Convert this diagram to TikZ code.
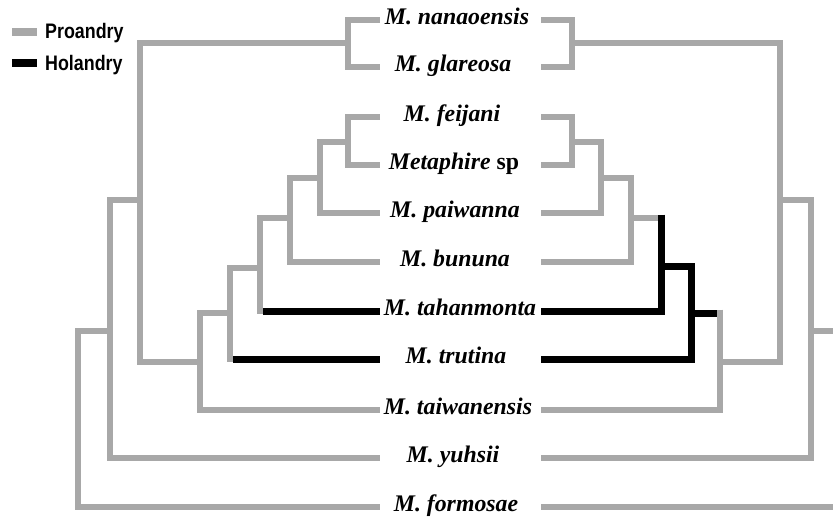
\documentclass[tikz,border=0pt]{standalone}
\usepackage{fontspec}
\setmainfont{Liberation Serif}
\newfontfamily\legendfont[FakeStretch=0.85]{Liberation Sans}
\definecolor{treegray}{RGB}{168,168,168}
\begin{document}
\begin{tikzpicture}[x=1pt,y=-1pt,
  gbr/.style={draw=treegray,line width=6.8pt,line join=miter,line cap=butt},
  bbr/.style={draw=black,line width=7pt,line join=miter,line cap=butt},
  taxon/.style={anchor=base,inner sep=0pt,font=\fontsize{23.8}{26}\selectfont\bfseries\itshape},
  legtext/.style={anchor=base west,inner sep=0pt,font=\legendfont\fontsize{21}{23}\selectfont\bfseries}]
\useasboundingbox (0,0) rectangle (833,517);
% rows
\def\yA{20}\def\yB{67}\def\yC{117}\def\yD{165}\def\yE{213}\def\yF{262}
\def\yG{311}\def\yH{359}\def\yI{410}\def\yJ{458}\def\yK{507}
% labels
\node[taxon] (t1) at (457,\yA+4.5) {M. nanaoensis};
\node[taxon] (t2) at (453,\yB+4.5) {M. glareosa};
\node[taxon] (t3) at (452,\yC+4.5) {M. feijani};
\node[taxon] (t4) at (454,\yD+4.5) {Metaphire \upshape sp};
\node[taxon] (t5) at (455,\yE+4.5) {M. paiwanna};
\node[taxon] (t6) at (455,\yF+4.5) {M. bununa};
\node[taxon] (t7) at (460,\yG+4.5) {M. tahanmonta};
\node[taxon] (t8) at (456,\yH+4.5) {M. trutina};
\node[taxon] (t9) at (458,\yI+4.5) {M. taiwanensis};
\node[taxon] (t10) at (453,\yJ+4.5) {M. yuhsii};
\node[taxon] (t11) at (456,\yK+4.5) {M. formosae};
% legend
\fill[treegray] (12,28) rectangle (37,36);
\fill[black] (12,59) rectangle (37,67);
\node[legtext] (lp) at (45,38.5) {Proandry};
\node[legtext] (lh) at (45,70) {Holandry};
% leaf ends left
\coordinate (L1) at (380,\yA); \coordinate (L2) at (380,\yB);
\coordinate (L3) at (380,\yC); \coordinate (L4) at (380,\yD);
\coordinate (L5) at (380,\yE); \coordinate (L6) at (380,\yF);
\coordinate (L7) at (380,\yG); \coordinate (L8) at (380,\yH);
\coordinate (L9) at (380,\yI); \coordinate (L10) at (380,\yJ);
\coordinate (L11) at (380,\yK);
% leaf ends right
\coordinate (R1) at (541,\yA); \coordinate (R2) at (541,\yB);
\coordinate (R3) at (541,\yC); \coordinate (R4) at (541,\yD);
\coordinate (R5) at (541,\yE); \coordinate (R6) at (541,\yF);
\coordinate (R7) at (541,\yG); \coordinate (R8) at (541,\yH);
\coordinate (R9) at (541,\yI); \coordinate (R10) at (541,\yJ);
\coordinate (R11) at (541,\yK);
% left internal nodes
\coordinate (nA) at (348,43);
\coordinate (nC) at (348,142);
\coordinate (nD) at (320,178);
\coordinate (nE) at (290,218);
\coordinate (nF) at (260,268);
\coordinate (nF7) at (263.4,\yG);
\coordinate (nG) at (230,313);
\coordinate (nG8) at (233.4,\yH);
\coordinate (nH) at (200,362);
\coordinate (nB) at (140,200);
\coordinate (nI) at (110,331);
\coordinate (nJ) at (78,420);
% right internal nodes
\coordinate (mA) at (572,43);
\coordinate (mC) at (572,142);
\coordinate (mD) at (601,178);
\coordinate (mE) at (631,218);
\coordinate (mEr) at (661,218);
\coordinate (mFt) at (661,214.6);
\coordinate (mF) at (661,266);
\coordinate (mG) at (691,313);
\coordinate (mHl) at (717,313);
\coordinate (mHt) at (720,309.5);
\coordinate (mH) at (720,362);
\coordinate (mB) at (780,200);
\coordinate (mI) at (811,331);
\coordinate (mIr) at (833,331);
\coordinate (mK) at (833,\yK);
% left tree
\draw[gbr] (L1) -| (nA) |- (L2);
\draw[gbr] (L3) -| (nC) |- (L4);
\draw[gbr] (nC) -| (nD) |- (L5);
\draw[gbr] (nD) -| (nE) |- (L6);
\draw[gbr] (nE) -| (nF) |- (nF7);
\draw[gbr] (nF) -| (nG) |- (nG8);
\draw[gbr] (nG) -| (nH) |- (L9);
\draw[gbr] (nA) -| (nB) |- (nH);
\draw[gbr] (nB) -| (nI) |- (L10);
\draw[gbr] (nI) -| (nJ) |- (L11);
\draw[bbr] (nF7) -- (L7);
\draw[bbr] (nG8) -- (L8);
% right tree
\draw[gbr] (R1) -| (mA) |- (R2);
\draw[gbr] (R3) -| (mC) |- (R4);
\draw[gbr] (mC) -| (mD) |- (R5);
\draw[gbr] (mD) -| (mE) |- (R6);
\draw[gbr] (mE) -- (mEr);
\draw[gbr] (mHt) |- (R9);
\draw[gbr] (mH) -| (mB) |- (mA);
\draw[gbr] (mB) -| (mI) |- (R10);
\draw[gbr] (mI) -- (mIr);
\draw[gbr] (R11) -- (mK);
\draw[bbr] (mFt) |- (R7);
\draw[bbr] (mF) -| (mG) |- (R8);
\draw[bbr] (mG) -- (mHl);
\end{tikzpicture}
\end{document}
